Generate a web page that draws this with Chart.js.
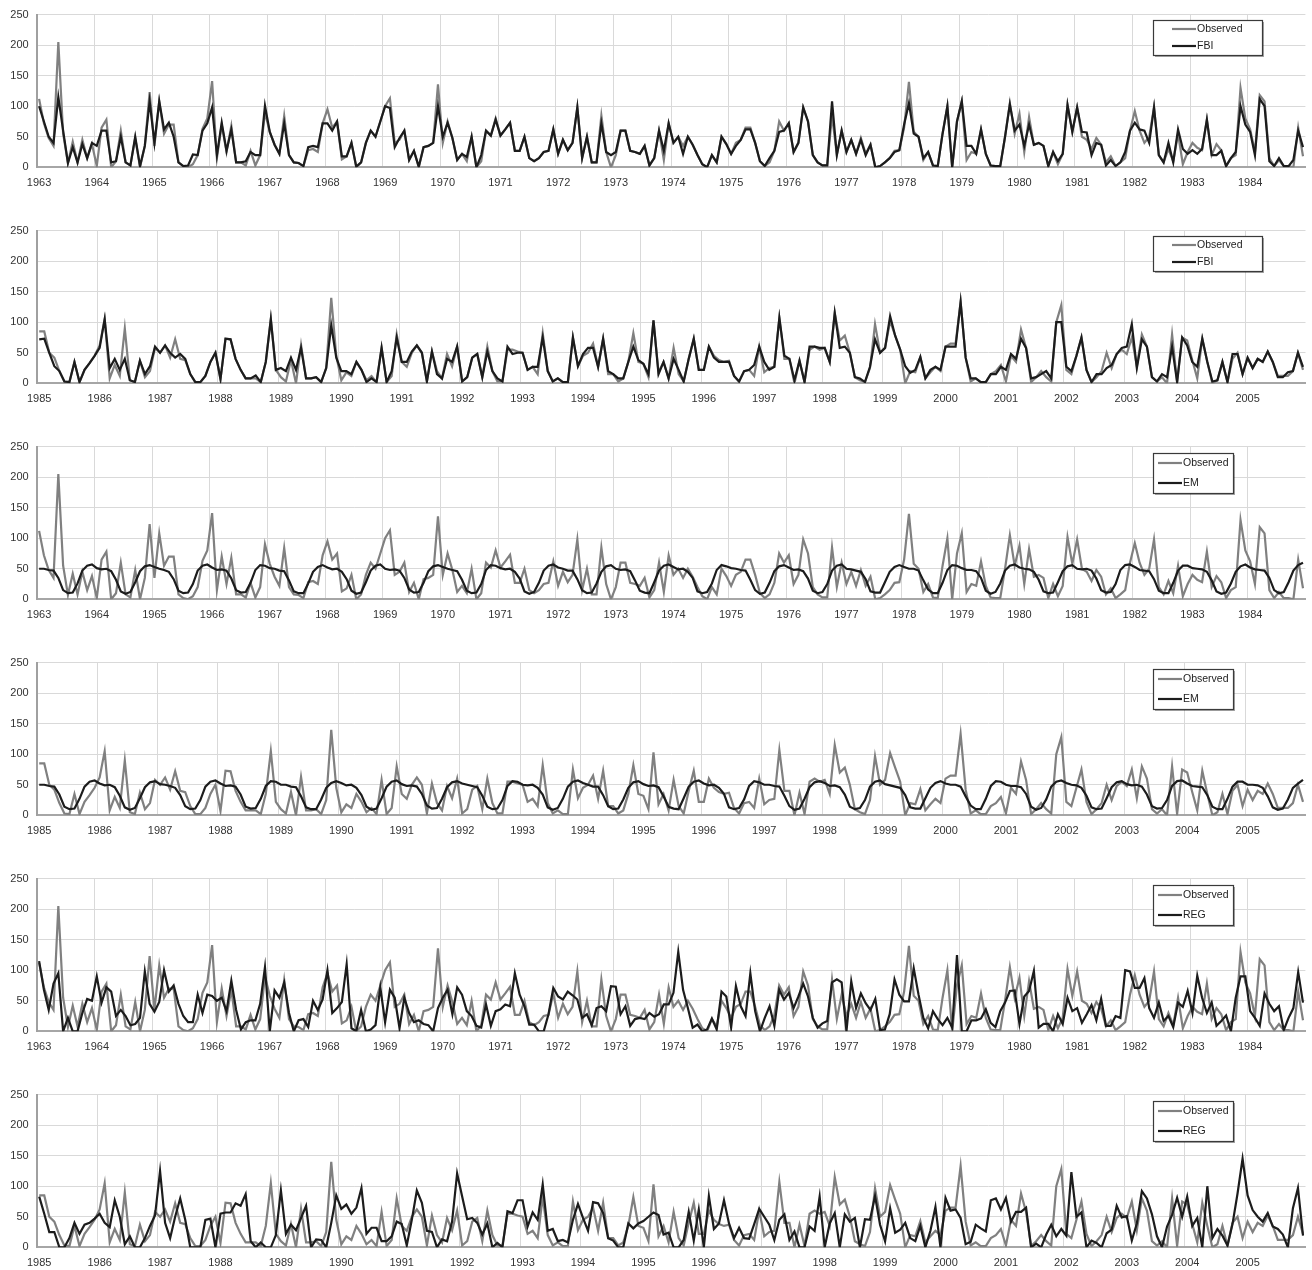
<!DOCTYPE html>
<html><head><meta charset="utf-8">
<script src="https://cdn.jsdelivr.net/npm/chart.js@4.4.1/dist/chart.umd.min.js"></script>
<style>
html,body{margin:0;padding:0;background:#fff;width:1312px;height:1270px;overflow:hidden;}
.panel{position:absolute;left:0;width:1312px;height:200px;}
</style></head><body>
<div class="panel" style="top:0px"><canvas id="c0" width="1312" height="200"></canvas></div>
<div class="panel" style="top:216px"><canvas id="c1" width="1312" height="200"></canvas></div>
<div class="panel" style="top:432px"><canvas id="c2" width="1312" height="200"></canvas></div>
<div class="panel" style="top:648px"><canvas id="c3" width="1312" height="200"></canvas></div>
<div class="panel" style="top:864px"><canvas id="c4" width="1312" height="200"></canvas></div>
<div class="panel" style="top:1080px"><canvas id="c5" width="1312" height="200"></canvas></div>
<script>
// ---------- tick labels ----------
const yearsEarly = ['1963','1964','1965','1966','1967','1968','1969','1970','1971','1972','1973','1974','1975','1976','1977','1978','1979','1980','1981','1982','1983','1984'];
const yearsLate = ['1985','1986','1987','1988','1989','1990','1991','1992','1993','1994','1995','1996','1997','1998','1999','2000','2001','2002','2003','2004','2005'];
const yTicks = [0, 50, 100, 150, 200, 250];

// ---------- 1963-1984 monthly ----------
const observedEarly = [
 112,72,48,35,205,55,7,42,8,45,15,38,
 2,65,78,0,10,60,8,3,48,0,35,123,
 35,108,55,70,70,8,2,0,5,20,63,80,
 141,15,70,25,68,8,8,3,27,3,20,90,
 58,37,22,84,20,8,7,2,28,30,25,72,
 95,65,75,13,18,40,0,8,40,60,50,75,
 100,113,40,45,60,12,27,0,33,35,40,136,
 40,75,48,12,22,10,50,0,10,60,52,80,
 52,62,73,27,27,50,15,10,15,25,27,62,
 22,45,28,40,98,15,50,8,8,85,25,0,
 20,60,60,27,25,22,35,3,15,60,12,72,
 40,50,35,50,37,20,5,0,20,8,50,38,
 22,40,45,65,65,40,10,2,8,27,75,60,
 72,25,40,98,75,20,8,3,3,85,20,60,
 25,45,22,48,22,37,0,2,8,15,27,28,
 65,140,58,50,12,25,3,2,55,100,0,75,
 108,12,25,22,62,22,3,2,2,50,105,55,
 88,25,82,37,40,35,2,25,5,22,102,58,
 98,50,45,30,48,37,8,18,2,8,15,60,
 92,60,40,50,98,20,8,30,10,55,5,25,
 40,32,28,78,20,38,28,2,15,20,130,80,
 62,25,118,108,15,2,12,2,2,0,65,18
];
const fbiEarly = [
 100,75,50,40,115,60,7,33,8,38,15,40,
 35,60,60,8,10,50,8,3,50,2,35,108,
 40,108,62,73,50,8,2,3,21,20,60,72,
 98,20,73,27,62,8,8,10,25,20,20,101,
 58,37,22,72,20,8,7,2,33,35,33,72,
 72,60,75,18,18,40,1,8,40,60,50,75,
 100,97,33,48,60,12,27,1,33,35,40,100,
 50,73,48,12,22,17,50,0,20,60,52,78,
 52,62,73,27,27,50,15,10,15,25,27,62,
 22,45,28,40,98,15,50,8,8,72,25,20,
 25,60,60,27,25,22,35,3,15,60,27,72,
 40,50,22,50,37,20,5,0,20,8,50,38,
 22,35,45,62,62,40,10,2,15,27,58,60,
 72,25,40,98,75,20,8,3,3,108,20,60,
 25,45,22,45,20,37,0,2,8,15,25,28,
 70,105,55,50,15,25,3,2,55,100,0,75,
 108,35,35,22,62,22,3,2,2,50,103,60,
 70,35,70,37,40,35,2,25,10,22,102,58,
 98,58,57,20,40,37,3,12,2,8,25,60,
 73,62,60,40,98,20,8,40,8,62,30,22,
 28,22,30,78,20,20,27,2,15,25,100,70,
 58,20,112,100,10,2,15,2,2,12,60,33
];
const emEarly = [
 50,50,48,47,35,15,10,11,26,47,55,57,
 51,49,50,46,32,13,9,12,28,46,54,56,
 53,50,48,45,33,14,10,11,25,47,55,57,
 52,48,49,47,34,15,11,12,27,48,56,55,
 51,50,47,46,31,13,10,10,26,45,53,56,
 52,49,50,45,33,14,9,11,28,47,55,57,
 50,48,49,47,35,16,11,12,27,46,54,56,
 53,50,48,46,32,14,10,11,25,48,56,55,
 51,49,50,45,34,13,9,12,27,47,55,57,
 52,50,47,47,33,15,10,11,26,45,54,56,
 50,48,49,46,31,14,11,10,28,47,55,57,
 53,49,50,45,35,13,10,12,26,48,56,54,
 51,50,48,47,32,15,9,11,27,46,54,56,
 52,48,49,46,34,14,10,12,25,47,55,57,
 50,49,47,45,33,13,11,11,28,45,53,56,
 53,50,50,47,31,16,10,10,27,48,56,55,
 51,48,48,46,35,14,9,12,26,47,55,57,
 52,50,49,45,32,13,10,11,28,46,54,56,
 50,49,50,47,34,15,11,12,25,48,56,57,
 53,48,47,46,33,14,10,10,27,47,55,55,
 51,50,49,45,31,13,9,11,26,45,54,57,
 52,49,48,47,35,15,10,12,28,47,56,60
];
const regEarly = [
 115,68,35,78,95,0,22,0,0,30,53,50,
 90,47,72,65,25,35,25,10,12,22,98,45,
 32,48,100,65,75,45,25,15,15,60,30,60,
 58,50,55,33,83,35,3,15,18,18,45,105,
 0,67,55,80,30,0,18,20,7,50,35,52,
 100,30,38,48,110,5,0,35,0,3,10,72,
 15,68,55,5,55,30,15,18,12,10,0,38,
 55,68,28,72,60,33,25,9,6,44,9,33,
 36,44,41,95,60,41,11,11,0,0,28,71,
 57,52,65,59,52,22,28,10,38,41,33,74,
 73,28,41,9,20,22,20,30,24,28,44,44,
 63,130,68,38,6,11,0,3,21,3,65,57,
 6,74,41,25,95,33,0,22,41,9,68,52,
 63,38,57,78,57,22,6,13,17,80,85,80,
 0,82,38,62,46,35,53,2,3,28,85,60,
 49,49,103,60,22,5,33,20,10,22,6,125,
 0,0,18,18,21,36,14,7,33,47,66,67,
 12,57,66,99,6,12,12,0,28,12,55,33,
 38,14,28,43,18,53,9,9,25,22,100,98,
 71,71,87,38,22,47,17,25,7,47,40,66,
 30,91,55,30,47,9,17,26,0,55,90,90,
 33,22,9,62,45,33,41,2,22,38,97,47
];

// ---------- 1985-2005 monthly ----------
const observedLate = [
 85,85,50,42,20,3,2,35,2,22,33,45,
 62,105,8,30,12,90,5,2,37,10,20,58,
 50,62,42,72,40,38,15,2,2,12,35,50,
 7,73,72,40,22,8,8,8,2,35,105,22,
 10,3,38,0,63,8,8,10,2,25,140,45,
 5,18,12,35,22,5,12,2,58,2,12,80,
 35,27,50,62,50,3,52,20,8,48,28,60,
 3,10,42,48,10,60,20,3,3,55,55,52,
 50,22,27,15,82,20,3,8,2,2,75,28,
 45,50,65,27,73,15,15,3,8,35,82,35,
 32,10,103,18,35,8,58,15,3,40,73,22,
 22,60,45,38,35,37,12,3,20,22,12,60,
 18,25,27,107,40,40,0,37,2,55,60,55,
 58,35,115,70,78,50,10,5,2,25,97,50,
 58,102,78,55,0,20,18,43,8,18,27,20,
 60,65,65,133,42,3,8,2,2,15,20,30,
 3,45,35,88,58,2,10,20,10,3,100,128,
 22,15,45,75,22,2,10,20,50,25,48,55,
 48,75,28,80,60,10,3,10,0,80,2,75,
 70,38,8,73,35,0,5,35,2,40,50,15,
 42,25,40,35,52,35,12,12,12,20,50,22
];
const fbiLate = [
 72,73,50,28,20,3,2,35,2,22,33,45,
 58,105,25,40,22,40,5,2,37,15,28,60,
 50,62,50,42,48,40,15,2,2,12,35,50,
 7,73,72,40,22,8,8,13,2,35,105,22,
 25,20,42,22,58,8,8,10,2,25,95,42,
 20,20,15,35,22,2,8,2,58,2,20,75,
 35,35,52,62,50,3,52,15,8,40,35,60,
 3,10,42,48,10,52,20,8,3,60,48,50,
 50,22,27,27,75,20,3,8,2,2,75,28,
 48,58,58,27,73,20,15,8,8,35,60,38,
 32,15,103,15,35,8,40,22,3,40,73,22,
 22,60,42,35,35,35,12,3,20,22,30,60,
 35,22,27,107,45,40,5,37,2,60,60,58,
 58,35,115,58,60,50,10,8,2,27,72,50,
 58,110,78,55,28,17,22,43,8,22,27,22,
 60,60,60,133,42,8,8,2,2,15,15,27,
 22,48,40,73,58,8,10,15,20,8,100,100,
 27,20,45,75,22,2,15,15,25,30,48,58,
 60,97,25,72,60,10,3,15,10,60,2,75,
 62,35,27,73,35,3,5,35,2,48,48,15,
 42,25,40,35,52,35,10,10,18,20,50,27
];
const emLate = [
 50,50,48,47,34,14,10,11,27,47,55,57,
 52,49,50,46,32,13,9,12,28,46,54,56,
 51,50,48,45,33,15,10,11,25,47,55,57,
 52,48,49,47,34,14,11,12,27,48,56,55,
 50,50,47,46,31,13,10,10,26,45,53,56,
 53,49,50,45,33,14,9,11,28,47,55,57,
 51,48,49,47,35,16,11,12,27,46,54,56,
 52,50,48,46,32,14,10,11,25,48,56,55,
 50,49,50,45,34,13,9,12,27,47,55,57,
 53,50,47,47,33,15,10,11,26,45,54,56,
 51,48,49,46,31,14,11,10,28,47,55,57,
 52,49,50,45,35,13,10,12,26,48,56,54,
 50,50,48,47,32,15,9,11,27,46,54,56,
 53,48,49,46,34,14,10,12,25,47,55,57,
 51,49,47,45,33,13,11,11,28,45,53,56,
 52,50,50,47,31,16,10,10,27,48,56,55,
 50,48,48,46,35,14,9,12,26,47,55,57,
 53,50,49,45,32,13,10,11,28,46,54,56,
 51,49,50,47,34,15,11,12,25,48,56,57,
 52,48,47,46,33,14,10,10,27,47,55,55,
 50,50,49,45,31,13,9,11,26,45,52,58
];
const regLate = [
 83,55,25,25,0,0,15,40,22,37,40,47,
 55,40,33,77,50,5,18,0,0,15,35,52,
 125,40,15,50,80,45,0,0,0,45,47,0,
 55,57,57,72,68,87,10,0,8,0,0,20,
 93,22,37,28,48,68,0,13,12,0,40,85,
 63,70,55,65,97,22,32,32,10,10,18,42,
 38,3,45,93,73,27,25,0,13,10,42,121,
 83,46,48,40,21,39,0,7,0,59,56,77,
 77,34,57,45,103,27,30,10,12,8,45,71,
 48,27,74,72,56,15,11,0,0,39,31,39,
 43,50,57,53,21,24,0,0,12,58,11,62,
 0,84,30,39,77,39,15,32,15,14,38,63,
 50,37,12,45,54,12,26,0,0,34,27,83,
 0,39,56,0,54,42,48,0,46,45,84,37,
 10,64,24,29,40,15,10,35,0,27,66,0,
 81,60,62,48,5,9,37,31,26,77,80,62,
 81,42,58,58,65,0,6,0,21,37,18,30,
 19,123,50,57,0,11,7,0,23,29,68,49,
 51,11,39,92,80,54,18,0,34,53,81,50,
 83,35,48,0,100,15,30,19,3,38,88,145,
 85,61,50,42,56,34,30,21,0,64,97,19
];

const seriesNames = ['Observed', 'FBI', 'EM', 'REG'];
const obsColor = '#808080';
const modelColor = '#1c1c1c';
const FONT = '"Liberation Sans", Arial, sans-serif';

// legend boxes (plugin) -------------------------------------------------
const boxLegend = {
  id: 'boxLegend',
  afterDraw(chart, args, o) {
    if (!o || !o.w) return;
    const ctx = chart.ctx;
    ctx.save();
    ctx.fillStyle = 'rgba(0,0,0,0.35)';
    ctx.fillRect(o.x + 2, o.y + 2, o.w, o.h);
    ctx.fillStyle = '#ffffff';
    ctx.fillRect(o.x, o.y, o.w, o.h);
    ctx.strokeStyle = '#3a3a3a';
    ctx.lineWidth = 1.2;
    ctx.strokeRect(o.x + 0.5, o.y + 0.5, o.w, o.h);
    chart.data.datasets.forEach((ds, i) => {
      const yy = o.rows[i];
      ctx.strokeStyle = ds.borderColor;
      ctx.lineWidth = ds.borderWidth;
      ctx.beginPath(); ctx.moveTo(o.l0, yy); ctx.lineTo(o.l1, yy); ctx.stroke();
      ctx.fillStyle = '#222';
      ctx.font = '10.5px ' + FONT;
      ctx.textBaseline = 'middle';
      ctx.textAlign = 'left';
      ctx.fillText(ds.label, o.tx, yy + 0.5);
    });
    ctx.restore();
  }
};

const legendWide = {x: 1153, y: 20, w: 109, h: 35, l0: 1172, l1: 1196, tx: 1197, rows: [29, 46]};
const legendNarrow = {x: 1153, y: 21, w: 80, h: 40, l0: 1158, l1: 1182, tx: 1183, rows: [31, 51]};

function makeLabels(years) {
  const out = [];
  years.forEach(y => { for (let m = 0; m < 12; m++) out.push(m === 0 ? y : ''); });
  return out;
}

function buildChart(id, years, obs, model, modelName, legendOpts) {
  const labels = makeLabels(years);
  const n = labels.length;
  new Chart(document.getElementById(id), {
    type: 'line',
    data: {
      labels: labels,
      datasets: [
        {label: seriesNames[0], data: obs, borderColor: obsColor, borderWidth: 2.2, pointRadius: 0, tension: 0, order: 1, fill: false},
        {label: modelName, data: model, borderColor: modelColor, borderWidth: 2.2, pointRadius: 0, tension: 0, order: 0, fill: false}
      ]
    },
    options: {
      responsive: false,
      animation: false,
      events: [],
      layout: {padding: {top: 13.7, right: 2.5, bottom: 0, left: 0}},
      plugins: {legend: {display: false}, tooltip: {enabled: false}, boxLegend: legendOpts},
      scales: {
        x: {
          type: 'category',
          offset: true,
          grid: {
            offset: true,
            drawTicks: false,
            lineWidth: 1,
            color: (c) => (c.tick && c.index % 12 === 0 && c.index < n) ? '#d9d9d9' : 'rgba(0,0,0,0)'
          },
          border: {display: true, color: '#a6a6a6', width: 2},
          ticks: {
            autoSkip: false, maxRotation: 0, minRotation: 0, padding: 9,
            color: '#333', font: {family: FONT, size: 11},
            callback: (v, i) => labels[i]
          },
          afterFit: (s) => { s.height = 32.7; }
        },
        y: {
          min: 0, max: 250,
          afterBuildTicks: (s) => { s.ticks = yTicks.map(v => ({value: v})); },
          grid: {color: '#d9d9d9', lineWidth: 1, drawTicks: false},
          border: {display: true, color: '#a0a0a0', width: 2},
          ticks: {padding: 8, color: '#333', font: {family: FONT, size: 11}},
          afterFit: (s) => { s.width = 36.7; }
        }
      }
    },
    plugins: [boxLegend]
  });
}

buildChart('c0', yearsEarly, observedEarly, fbiEarly, seriesNames[1], legendWide);
buildChart('c1', yearsLate, observedLate, fbiLate, seriesNames[1], legendWide);
buildChart('c2', yearsEarly, observedEarly, emEarly, seriesNames[2], legendNarrow);
buildChart('c3', yearsLate, observedLate, emLate, seriesNames[2], legendNarrow);
buildChart('c4', yearsEarly, observedEarly, regEarly, seriesNames[3], legendNarrow);
buildChart('c5', yearsLate, observedLate, regLate, seriesNames[3], legendNarrow);
</script>
</body></html>
